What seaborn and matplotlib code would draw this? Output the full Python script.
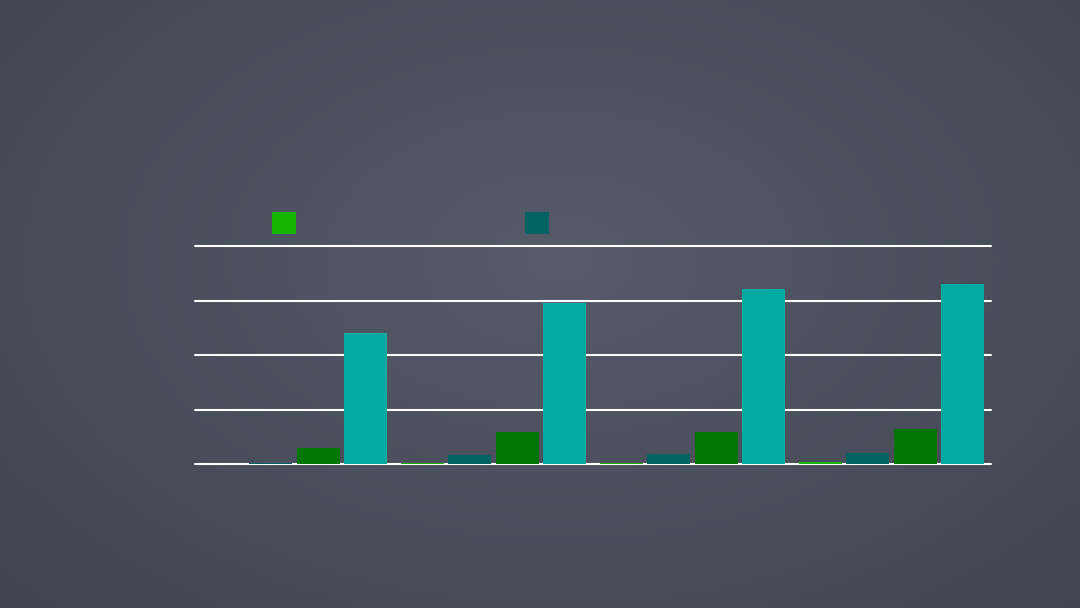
import numpy as np
import pandas as pd
import matplotlib
matplotlib.use("Agg")
import matplotlib.pyplot as plt
import seaborn as sns
from matplotlib.patches import Patch

# values (one gridline step = 1 unit)
categories = ["Q1", "Q2", "Q3", "Q4"]
series_names = ["Series A", "Series B", "Series C", "Series D"]
series_a = [0.00, 0.02, 0.02, 0.03]
series_b = [0.02, 0.17, 0.19, 0.20]
series_c = [0.30, 0.58, 0.59, 0.64]
series_d = [2.40, 2.95, 3.21, 3.31]
colors = ["#15b500", "#006262", "#007500", "#00aba2"]

df = pd.DataFrame({
    "category": categories * 4,
    "series": [s for s in series_names for _ in categories],
    "value": series_a + series_b + series_c + series_d,
})

sns.set_theme(style="white")
fig = plt.figure(figsize=(10.8, 6.08), dpi=100)

# chalkboard-like backdrop: smooth radial shading
bg = fig.add_axes([0, 0, 1, 1], zorder=-10)
h, w = 608, 1080
yy, xx = np.mgrid[0:h, 0:w]
d = np.sqrt(((xx - 560) / 750.0) ** 2 + ((yy - 260) / 480.0) ** 2)
d = np.clip(d, 0, 1.3)
light = np.array([86, 91, 106]) / 255.0
dark = np.array([58, 62, 73]) / 255.0
t = (d / 1.3)[..., None]
img = light * (1 - t) + dark * t
bg.imshow(img, extent=[0, 1, 0, 1], aspect="auto")
bg.axis("off")

ax = fig.add_axes([195 / 1080, 1 - 464 / 608, (991 - 195) / 1080, (464 - 246) / 608])
ax.set_facecolor("none")
sns.barplot(data=df, x="category", y="value", hue="series", palette=colors,
            width=0.95, gap=0.09, ax=ax, legend=False, saturation=1,
            linewidth=0, edgecolor="none")
ax.set_xlim(-0.5, 3.5)
ax.set_ylim(0, 4)
ax.set_yticks([0, 1, 2, 3, 4])
ax.yaxis.grid(True, color="white", linewidth=1.5)
ax.set_axisbelow(True)
for gl in ax.get_ygridlines():
    gl.set_clip_on(False)
ax.tick_params(left=False, bottom=False, labelleft=False, labelbottom=False)
ax.set_xlabel("")
ax.set_ylabel("")
sns.despine(ax=ax, left=True, bottom=True)

handles = [Patch(facecolor=colors[0], edgecolor="none", linewidth=0),
           Patch(facecolor=colors[1], edgecolor="none", linewidth=0)]
fig.legend(handles, ["", ""], loc="center left",
           bbox_to_anchor=(272 / 1080, 1 - 224 / 608), ncol=2, frameon=False,
           fontsize=17.28, handlelength=1, handleheight=1, handletextpad=0,
           columnspacing=9.54, borderpad=0, borderaxespad=0)

fig.savefig("out.png", dpi=100)
